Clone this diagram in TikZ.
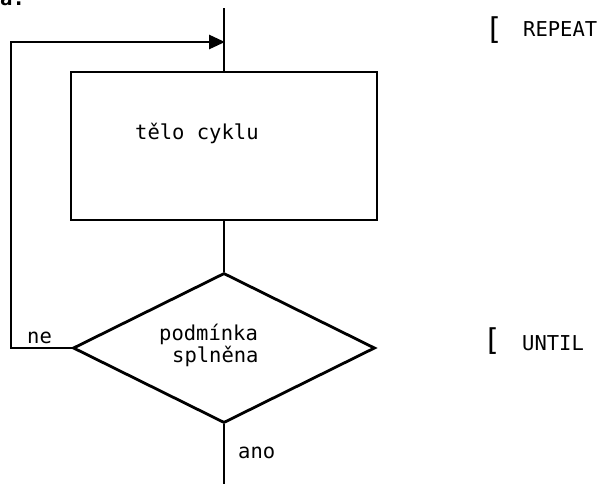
\documentclass[tikz,border=0pt]{standalone}
\usepackage{fontspec}
\setmonofont{DejaVu Sans Mono}
\usetikzlibrary{shapes.geometric,arrows.meta}
\begin{document}
\begin{tikzpicture}[x=1pt,y=-1pt,
  line/.style={line width=2.8pt,line join=miter},
  txt/.style={font=\ttfamily\fontsize{20.5}{22}\selectfont,inner sep=0pt,anchor=base west},
  brk/.style={font=\ttfamily\fontsize{30}{32}\selectfont,inner sep=0pt,anchor=center},
  bodybox/.style={draw,line width=2.8pt,rectangle,minimum width=306pt,minimum height=148pt,inner sep=0pt},
  testbox/.style={draw,line width=2.8pt,diamond,minimum width=302pt,minimum height=150pt,inner sep=0pt}]
\useasboundingbox (0,0) rectangle (603,483);
\clip (0,0) rectangle (603,483);

% flowchart blocks
\node[bodybox] (body) at (224,146) {};
\node[testbox] (test) at (224,348) {};

% entry, loop-back and exit points
\coordinate (entry) at (224,8);
\coordinate (merge) at (225,42);
\coordinate (exit) at (224,490);

% connectors
\draw[line] (entry) -- (body.north);
\draw[line] (body.south) -- (test.north);
\draw[line] (test.south) -- (exit);
\draw[line,-{Triangle[length=16pt,width=14pt]}]
  (test.west) -- (11,348) -- (11,42) -- (merge);

% labels
\node[txt] (fig) at (0,5) {\textbf{a.}};
\node[txt] (bodytext) at (135,139) {tělo cyklu};
\node[txt] (cond1) at (159,340) {podmínka};
\node[txt] (cond2) at (172,362) {splněna};
\node[txt] (no) at (27,343) {ne};
\node[txt] (yes) at (238,458) {ano};

% Pascal keywords
\node[brk] (b1) at (494,30) {[};
\node[txt] (rep) at (523,36) {REPEAT};
\node[brk] (b2) at (492,341) {[};
\node[txt] (unt) at (522,350) {UNTIL};
\end{tikzpicture}
\end{document}
